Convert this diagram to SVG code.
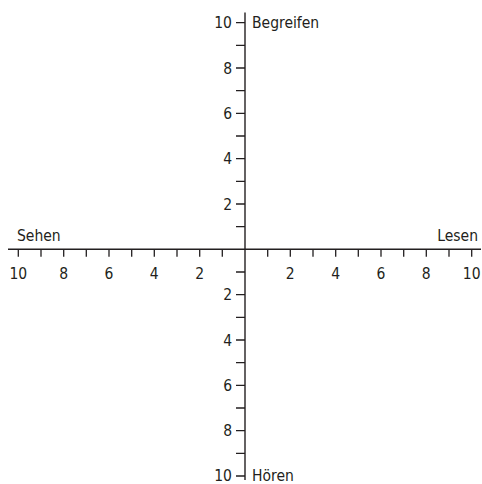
<svg xmlns="http://www.w3.org/2000/svg" width="482" height="484" viewBox="0 0 482 484">
<style>
.ax{stroke:#231f20;stroke-width:1.4;fill:none}
.tk{stroke:#231f20;stroke-width:1.3;fill:none}
text{font-family:"DejaVu Sans Condensed","Liberation Sans",sans-serif;font-size:15.5px;fill:#231f20}
.m{text-anchor:middle}
.e{text-anchor:end}
</style>
<rect width="482" height="484" fill="#fff"/>
<g id="connectors">
<line class="ax" x1="8" y1="249.3" x2="481" y2="249.3"/>
<line class="ax" x1="245" y1="12.5" x2="245" y2="480"/>
<path class="tk" d="M18.3 249.3v7.5M41 249.3v7.5M63.7 249.3v7.5M86.3 249.3v7.5M109 249.3v7.5M131.7 249.3v7.5M154.3 249.3v7.5M177 249.3v7.5M199.7 249.3v7.5M222.3 249.3v7.5M267.7 249.3v7.5M290.3 249.3v7.5M313 249.3v7.5M335.7 249.3v7.5M358.3 249.3v7.5M381 249.3v7.5M403.7 249.3v7.5M426.3 249.3v7.5M449 249.3v7.5M471.7 249.3v7.5"/>
<path class="tk" d="M236 22.7h9M236 45.3h9M236 68h9M236 90.7h9M236 113.3h9M236 136h9M236 158.7h9M236 181.3h9M236 204h9M236 226.7h9M236 272h9M236 294.7h9M236 317.3h9M236 340h9M236 362.7h9M236 385.3h9M236 408h9M236 430.7h9M236 453.3h9M236 476h9"/>
</g>
<g id="x-labels">
<text class="m" x="18.3" y="279">10</text>
<text class="m" x="63.7" y="279">8</text>
<text class="m" x="109" y="279">6</text>
<text class="m" x="154.3" y="279">4</text>
<text class="m" x="199.7" y="279">2</text>
<text class="m" x="290.3" y="279">2</text>
<text class="m" x="335.7" y="279">4</text>
<text class="m" x="381" y="279">6</text>
<text class="m" x="426.3" y="279">8</text>
<text class="m" x="471.7" y="279">10</text>
</g>
<g id="y-labels">
<text class="e" x="232" y="28.3">10</text>
<text class="e" x="232" y="73.6">8</text>
<text class="e" x="232" y="119">6</text>
<text class="e" x="232" y="164.3">4</text>
<text class="e" x="232" y="209.6">2</text>
<text class="e" x="232" y="300.3">2</text>
<text class="e" x="232" y="345.6">4</text>
<text class="e" x="232" y="391">6</text>
<text class="e" x="232" y="436.3">8</text>
<text class="e" x="232" y="481">10</text>
</g>
<g id="begreifen"><text x="252" y="28.3">Begreifen</text></g>
<g id="hoeren"><text x="252" y="481">Hören</text></g>
<g id="sehen"><text x="17" y="241">Sehen</text></g>
<g id="lesen"><text class="e" x="478" y="241">Lesen</text></g>
</svg>
